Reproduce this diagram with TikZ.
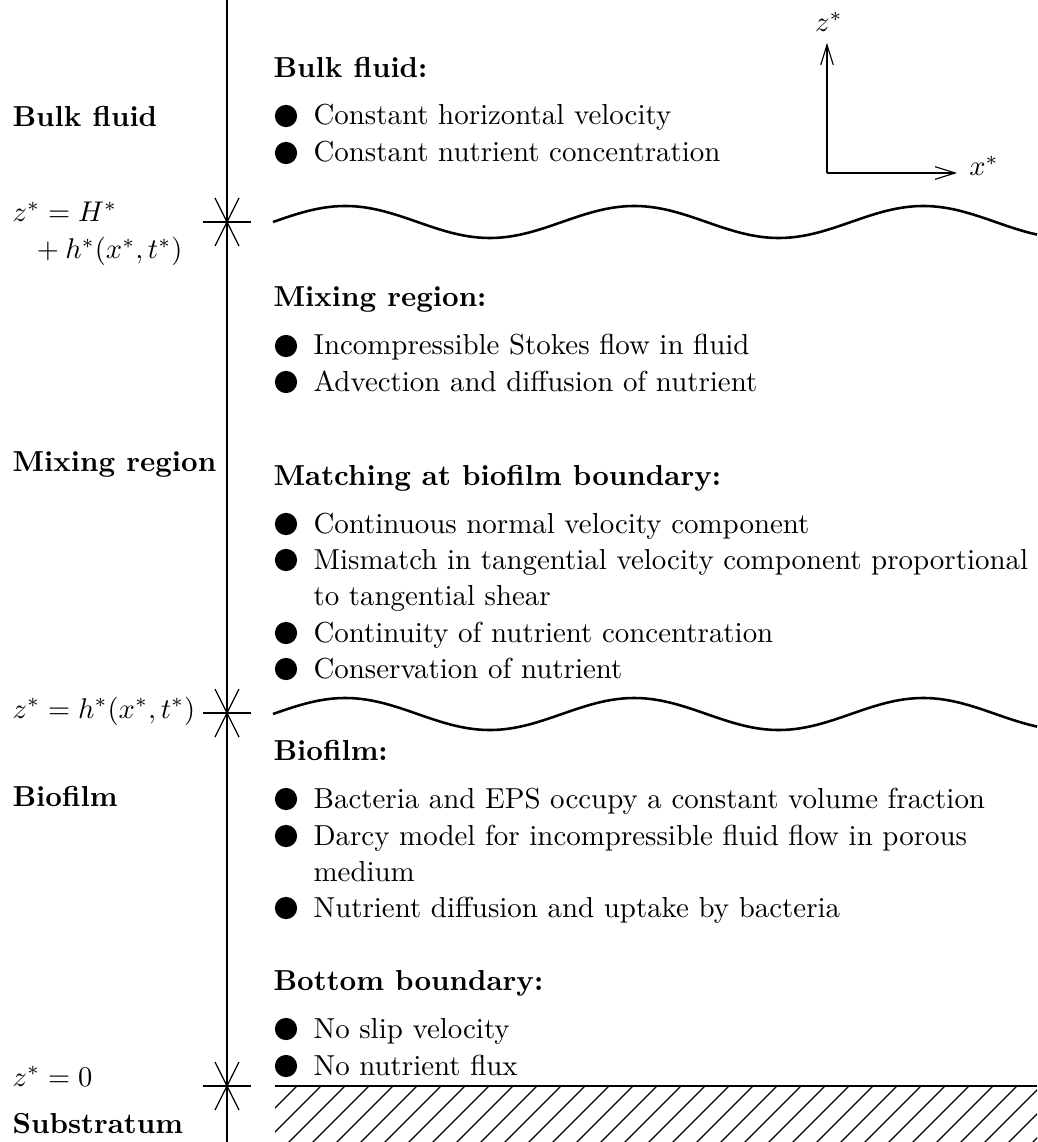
\documentclass[tikz,border=0pt]{standalone}
\usetikzlibrary{arrows.meta}
\newcommand\bitem[3]{\node[dot] (#1d) at (286,#2-9) {}; \node[it] (#1) at (313,#2) {#3};}
\newcommand\bitemii[3]{\node[dot] (#1d) at (286,#2-9) {}; \node[it] (#1) at (313,#2+36.5) {#3};}
\newcommand\tickmark[2]{\coordinate (#1) at (227,#2);
  \draw[line width=0.4pt] ([xshift=-24*0.351pt]#1) -- ([xshift=24*0.351pt]#1);
  \draw[line width=0.4pt] ([xshift=-12*0.351pt,yshift=24*0.351pt]#1) -- ([xshift=12*0.351pt,yshift=-24*0.351pt]#1);
  \draw[line width=0.4pt] ([xshift=12*0.351pt,yshift=24*0.351pt]#1) -- ([xshift=-12*0.351pt,yshift=-24*0.351pt]#1);}
\newcommand\txtfont{\fontsize{10.15pt}{12.8pt}\selectfont}
\begin{document}
\begin{tikzpicture}[x=0.351pt,y=-0.351pt,
  wave/.style={line width=0.9pt},
  hd/.style={anchor=base west, inner sep=0pt, font=\txtfont\bfseries},
  it/.style={anchor=base west, inner sep=0pt, align=left, font=\txtfont},
  lab/.style={anchor=base west, inner sep=0pt, font=\txtfont},
  blab/.style={anchor=base west, inner sep=0pt, font=\txtfont\bfseries},
  dot/.style={circle, fill, inner sep=0pt, minimum size=7.8pt},
  arr/.style={-{Straight Barb[length=7pt,width=4.4pt]}, line width=0.4pt}
]
\useasboundingbox (0,0) rectangle (1037,1142);
% main vertical axis
\coordinate (axtop) at (227,0);
\coordinate (axbot) at (227,1142);
\draw[line width=0.4pt] (axtop) -- (axbot);
\tickmark{t1}{222}
\tickmark{t2}{713}
\tickmark{t3}{1086}
% waves
\draw[wave] plot[domain=273:1037, samples=200, smooth] (\x, {222-16*sin(1.2457*(\x-273))});
\draw[wave] plot[domain=273:1037, samples=200, smooth] (\x, {714-16*sin(1.2457*(\x-273))});
% substratum
\coordinate (s1) at (275,1086);
\coordinate (s2) at (1037,1086);
\draw[line width=0.9pt] (s1) -- (s2);
\begin{scope}
  \clip (275,1086) rectangle (1037,1142);
  \foreach \k in {-3,...,33} \draw[line width=0.4pt] (297+24*\k,1086) -- ++(-60,60);
\end{scope}
% coordinate axes
\coordinate (O) at (827,173);
\coordinate (zt) at (827,43);
\coordinate (xt) at (957,173);
\draw[arr] (O) -- (zt);
\draw[arr] (O) -- (xt);
\node[font=\txtfont] (zl) at (829,22) {$z^*$};
\node[font=\txtfont] (xl) at (984,166) {$x^*$};
% left labels
\node[blab] (lb1) at (12,127) {Bulk fluid};
\node[lab] (lz1) at (12,222) {$z^*=H^*$};
\node[lab] (lz1b) at (30,259) {${}+h^*(x^*,t^*)$};
\node[blab] (lb2) at (12,471) {Mixing region};
\node[lab] (lz2) at (12,718) {$z^*=h^*(x^*,t^*)$};
\node[blab] (lb3) at (12,806) {Biofilm};
\node[lab] (lz3) at (12,1086) {$z^*=0$};
\node[blab] (lb4) at (12,1133) {Substratum};
% right column
\node[hd] (h1) at (273,78) {Bulk fluid:};
\bitem{a1}{125}{Constant horizontal velocity}
\bitem{a2}{162}{Constant nutrient concentration}
\node[hd] (h2) at (273,307) {Mixing region:};
\bitem{b1}{355}{Incompressible Stokes flow in fluid}
\bitem{b2}{391}{Advection and diffusion of nutrient}
\node[hd] (h3) at (273,485) {Matching at biofilm boundary:};
\bitem{c1}{533}{Continuous normal velocity component}
\bitemii{c2}{569}{Mismatch in tangential velocity component proportional\\to tangential shear}
\bitem{c3}{642}{Continuity of nutrient concentration}
\bitem{c4}{678}{Conservation of nutrient}
\node[hd] (h4) at (273,760) {Biofilm:};
\bitem{d1}{808}{Bacteria and EPS occupy a constant volume fraction}
\bitemii{d2}{845}{Darcy model for incompressible fluid flow in porous\\medium}
\bitem{d3}{917}{Nutrient diffusion and uptake by bacteria}
\node[hd] (h5) at (273,990) {Bottom boundary:};
\bitem{e1}{1038}{No slip velocity}
\bitem{e2}{1075}{No nutrient flux}
\end{tikzpicture}
\end{document}
